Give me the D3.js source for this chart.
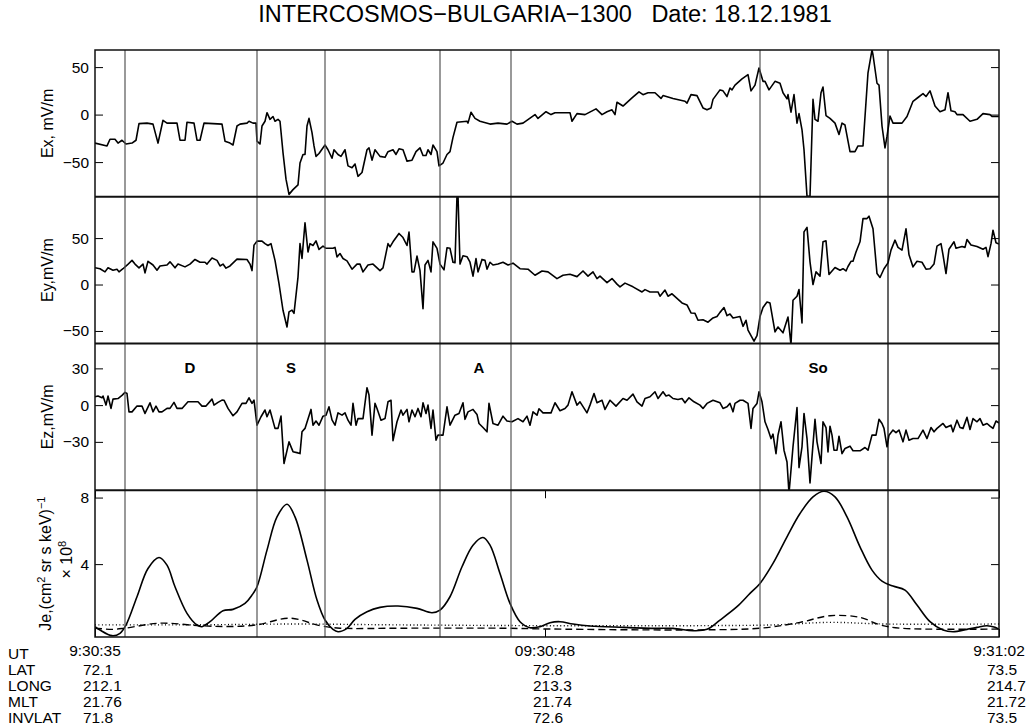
<!DOCTYPE html>
<html>
<head>
<meta charset="utf-8">
<script src="https://cdn.jsdelivr.net/npm/d3@7"></script>
<style>
  body { margin: 0; background: #fff; }
  svg { font-family: "Liberation Sans", Arial, Helvetica, sans-serif; }
</style>
</head>
<body>
<div id="chart"></div>
<script>
// time axis is in telemetry samples (904 samples between 9:30:35 and 9:31:02)
const nSamples = 904;

const timeTicks = [0, 450, 904];
const utLabels = ["9:30:35", "09:30:48", "9:31:02"];
const rowNames = ["UT", "LAT", "LONG", "MLT", "INVLAT"];
const latValues = ["72.1", "72.8", "73.5"];
const longValues = ["212.1", "213.3", "214.7"];
const mltValues = ["21.76", "21.74", "21.72"];
const invlatValues = ["71.8", "72.6", "73.5"];

// boundary markers (sample index) and region names
const eventLines = [30, 162, 230, 345, 416, 665, 793];
const regionNames = ["D", "S", "A", "So"];
const regionCenters = [95, 196, 384, 723];

// [sample, mV/m]
const exData = [[0,-30],[12,-33],[15,-26],[20,-26],[23,-30],[27,-27],[31,-31],[37,-30],[41,-27],[44,-9.5],[52,-9],[58,-10],[63,-30],[68,-6],[72,-9],[82,-9],[85,-27],[90,-27],[92,-8],[99,-9],[102,-27],[105,-27],[109,-9],[127,-10],[130,-28],[135,-30],[138,-32],[142,-12],[145,-10],[152,-9],[154,-7],[158,-9],[161,-9],[162,-28],[165,-31],[167,-12],[170,-7],[172,2],[175,-5],[178,-2],[180,-7],[183,-5],[185,-7],[188,-40],[191,-68],[194,-84],[198,-79],[203,-74],[205,-51],[208,-42],[210,-42],[212,-12],[214,-4],[217,-19],[219,-33],[221,-44],[224,-41],[230,-32],[233,-37],[237,-46],[239,-37],[243,-42],[246,-44],[250,-37],[253,-54],[257,-56],[260,-52],[263,-65],[267,-61],[272,-37],[274,-35],[277,-48],[280,-37],[285,-44],[290,-45],[293,-39],[298,-37],[301,-42],[304,-36],[308,-37],[312,-49],[317,-48],[321,-39],[325,-35],[328,-43],[331,-43],[333,-37],[336,-42],[338,-32],[342,-39],[344,-54],[348,-51],[352,-42],[355,-39],[358,-24],[362,-8],[372,-7],[373,-9],[376,2.5],[380,-4],[385,-7],[395,-10],[403,-9],[412,-10],[417,-7],[422,-10],[428,-9],[440,0],[443,-4],[451,3],[456,0],[460,2],[475,2],[477,-7],[482,1],[490,0],[501,6],[507,0],[512,3],[517,5],[520,0],[522,13],[528,9],[537,17.5],[544,24],[548,21],[553,23],[560,23],[566,17],[568,20],[578,17],[590,14],[592,12],[596,21],[602,20],[608,7],[612,5],[616,7],[618,16],[625,26],[628,25],[632,19],[635,28],[637,26],[640,31],[647,37.5],[653,42],[656,25],[660,31],[664,49],[668,35],[670,35],[674,26],[680,35],[685,33],[688,23],[692,16.5],[693,21],[696,2.5],[699,21],[702,-9],[704,1],[707,-16],[709,-37],[712,-86],[715,-86],[718,16],[720,-5],[723,-7],[726,23],[728,29],[731,-1],[735,-4],[740,-9],[744,-21],[747,-9],[750,-11],[755,-39],[760,-39],[763,-33],[768,-33],[773,44],[777,68],[778,63],[782,33],[784,31],[787,-12],[790,-35],[792,-23],[795,-1.5],[798,-9],[807,-9],[812,-2],[818,14],[823,18],[828,22],[831,19],[835,25],[840,9],[845,3],[850,5],[853,23],[856,4],[860,3],[862,0],[868,0],[875,-7],[882,-5],[888,1],[895,0],[897,-2],[904,-2]];

const eyData = [[0,18],[5,17],[10,13.6],[13,18],[18,15.4],[22,16.5],[24,13.6],[28,17],[32,20.8],[37,26],[40,22],[44,18],[48,22],[50,12.5],[53,25],[58,21],[62,15.4],[65,20],[72,21],[75,24.4],[80,18],[83,22],[90,19],[95,22],[100,27],[105,24],[110,24],[112,22],[117,28.5],[122,26],[125,20],[128,22],[131,17.6],[135,20],[142,27.3],[152,27],[155,22],[157,15],[159,42.4],[162,46.7],[167,46.7],[170,44],[173,42],[176,44],[180,26],[184,1],[188,-27.7],[192,-45.7],[194,-29.5],[197,-27.5],[199,-31],[203,8],[205,44],[207,28],[210,66.5],[213,35],[215,44],[218,42],[221,47],[224,37.8],[228,41.4],[231,39],[238,39],[240,40],[242,29.8],[245,33.4],[248,28],[252,25.5],[257,16.5],[262,22],[265,22],[268,13.6],[273,21],[278,22],[285,15],[288,18],[293,44],[295,40.6],[298,46],[304,55],[308,50.6],[312,42],[314,56.5],[317,13.6],[319,13.6],[322,30.6],[325,15],[328,-26],[330,21],[333,26],[336,13.6],[338,46],[342,39],[345,22],[349,15.8],[352,39.5],[355,39],[358,24],[360,23.4],[362,96],[363,96],[365,22],[368,31],[372,30],[375,24],[378,9],[381,28],[383,13.6],[387,27],[390,26],[392,16.5],[395,24],[398,21],[403,22],[408,24],[413,21],[418,23],[425,17],[433,16.5],[440,10],[447,14.6],[453,13.6],[462,6.4],[468,10],[475,11],[482,8.5],[488,14.6],[493,9],[498,13.6],[502,6.4],[505,9],[512,2],[517,6.4],[522,0.4],[525,-2.5],[530,1.5],[538,-2.5],[547,-8],[550,-5.5],[555,-8],[563,-8],[565,-12.6],[570,-6],[573,-12.6],[577,-10],[582,-15],[587,-19.8],[592,-22],[596,-30.6],[600,-31],[603,-38.5],[608,-38],[613,-40.6],[618,-36],[622,-34.5],[625,-30],[629,-24.8],[632,-33.5],[635,-31.7],[638,-36],[645,-34.5],[648,-45],[651,-38.5],[653,-49],[659,-61],[662,-55],[665,-34.5],[668,-24.8],[672,-18.8],[675,-20],[680,-51],[683,-45.7],[688,-52],[693,-35],[696,-65],[698,-17],[702,-12.6],[704,-5.4],[707,-41.4],[709,56.7],[712,61.5],[715,24.4],[718,0],[721,13.6],[725,9],[728,46],[731,47],[734,10.8],[740,18.3],[745,15.4],[748,17],[751,14.6],[753,19.4],[756,25],[758,25],[761,35],[765,46],[768,71],[772,71],[774,73.6],[778,60],[782,11.8],[785,7.6],[789,17],[793,23.3],[796,37],[800,47.8],[803,40],[807,37],[811,60],[814,32],[818,19],[822,25],[827,24],[831,16.5],[835,17],[839,22],[842,41.3],[846,44],[848,32],[851,11.8],[854,38],[859,46],[861,39],[867,41],[870,40],[872,48.5],[876,42.6],[882,41],[888,38],[891,40],[893,30],[896,44],[898,58.5],[901,45],[904,43.6]];

const ezData = [[0,6.8],[3,7.4],[7,6],[8,7.4],[11,0],[13,7.4],[16,-2.7],[18,4.9],[23,5.4],[27,8],[30,10.4],[32,9.5],[34,-5.5],[37,-5.5],[42,-0.8],[47,-0.8],[50,-6.8],[55,1.9],[58,-5.5],[61,-0.8],[64,-5.5],[67,-5.5],[72,-2.7],[75,-2.7],[79,2.2],[82,-2.7],[87,-2.7],[93,2.7],[103,2.7],[107,-0.8],[111,-0.8],[117,4.9],[119,0],[123,2.2],[127,4.1],[129,4],[133,-2.7],[138,-8.7],[142,-5.5],[147,1.4],[151,1.4],[154,6],[157,1.4],[159,4],[162,-16.4],[166,-9.5],[170,-4],[172,-9.5],[175,-4],[180,-19],[183,-19],[186,-9],[189,-47.7],[194,-30],[198,-38],[203,-39],[205,-39.6],[207,-21.8],[210,-19],[216,-3.5],[218,-16.4],[221,-13],[224,-16.4],[228,-9],[231,-8.2],[234,-1.4],[237,-12],[240,-16.4],[243,-6.3],[247,-8.2],[250,-6.3],[253,-12.3],[256,-16.4],[258,1.4],[261,-16.4],[263,-11],[268,-11],[272,14.2],[274,8.2],[277,-24.5],[280,1.4],[282,-2.7],[286,-12.3],[290,-11],[293,2.7],[296,4],[298,-29],[302,-13.6],[306,-4],[308,-8.2],[312,-3.5],[314,-13.6],[317,-4],[320,-9.5],[323,-2.7],[326,-9.5],[328,1.9],[331,-6.8],[333,0],[336,-19],[338,-4],[341,-28.6],[343,-24.5],[348,-24.5],[352,-1.4],[355,-16.4],[360,-8.2],[364,-6.8],[368,1.9],[370,-11.6],[373,-5.5],[378,-3.5],[382,-7.6],[384,-15],[388,-18.3],[392,-21.8],[394,1.4],[398,-15],[403,-16.4],[408,-9],[412,-13],[417,-13.6],[423,-11],[428,-13.6],[432,-9],[435,-16.4],[438,-5.5],[442,-8.2],[444,-3],[448,-6.3],[456,-6.3],[460,1.9],[465,-4.6],[470,-2.7],[473,0],[477,10.9],[482,0],[485,2.7],[492,-6.3],[495,0],[499,9.5],[502,1.9],[507,4],[510,-3.5],[515,4],[521,-0.8],[528,5.4],[532,4],[538,9],[542,2.7],[547,-0.8],[550,5.4],[555,6.8],[560,10.9],[563,5.4],[568,10.9],[571,7.4],[574,8.2],[578,5.4],[583,4.6],[587,5.4],[590,1.9],[594,6],[599,2.7],[605,0],[608,-2.7],[612,1.4],[618,4],[625,1.9],[628,-2.7],[632,-1.4],[635,1.4],[638,-5.5],[640,1.4],[645,4],[648,4],[653,1.4],[656,-19],[658,-2.7],[662,1.4],[664,10.9],[667,2.7],[670,-13.6],[673,-19.9],[676,-27.3],[678,-23.7],[681,-39.6],[683,-24.5],[686,-13.6],[689,-36.8],[692,-46.4],[694,-72],[698,-34],[702,-2],[704,-51],[707,-34],[709,-6.8],[712,-27.3],[715,-63.6],[717,-42.3],[720,-11.6],[722,-30],[726,-47.7],[728,-13.6],[731,-18.3],[733,-38.2],[735,-17.2],[737,-24.5],[739,-36.8],[742,-36.8],[744,-25.4],[747,-39.6],[750,-35.4],[755,-33.5],[758,-37.3],[765,-37.3],[770,-34.6],[773,-36.8],[777,-24.5],[781,-24.5],[784,-11.6],[787,-15],[789,-19],[792,-34],[794,-24.5],[798,-20.4],[801,-22.5],[804,-20.4],[808,-30],[811,-20.4],[814,-28.6],[818,-27.3],[823,-27.3],[828,-20.4],[832,-27.3],[836,-18.3],[839,-21.8],[842,-19],[848,-15],[851,-18.3],[856,-16.4],[858,-21.8],[862,-12.3],[865,-18.3],[868,-19],[872,-10],[875,-19.9],[878,-11],[882,-13.6],[885,-11],[888,-16.4],[892,-15],[895,-17.2],[898,-19],[901,-13],[904,-14.6]];

// electron flux, units of 1e8 (cm^2 sr s keV)^-1
const jeSolid = [[0,0.24],[5,0.04],[17,-0.3],[25,-0.16],[31,0.34],[42,2.04],[53,3.74],[64,4.4],[72,3.94],[80,2.64],[92,1.04],[102,0.34],[107,0.24],[115,0.54],[128,1.2],[138,1.28],[150,1.64],[157,2.14],[162,2.64],[172,4.84],[182,6.84],[192,7.6],[200,6.84],[212,4.24],[222,1.84],[230,0.64],[238,0.08],[243,-0.06],[252,0.14],[260,0.68],[272,1.14],[285,1.4],[303,1.48],[322,1.34],[337,1.08],[345,1.24],[355,2.04],[367,3.84],[378,5.14],[388,5.6],[395,5.14],[405,3.44],[415,1.64],[425,0.54],[435,0.18],[445,0.24],[455,0.48],[465,0.54],[478,0.4],[495,0.28],[528,0.2],[562,0.14],[578,0.14],[598,0.0],[612,0.08],[625,0.64],[642,1.44],[655,2.24],[665,2.84],[678,4.04],[692,5.64],[705,7.04],[718,8.04],[729,8.38],[740,8.04],[752,6.84],[765,5.04],[777,3.64],[787,2.98],[798,2.68],[810,2.44],[822,1.54],[835,0.54],[848,0.04],[858,-0.06],[872,0.08],[882,0.2],[892,0.3],[900,0.2],[904,0.08]];
const jeDashed = [[0,0.15],[17,0.08],[30,0.15],[65,0.45],[105,0.3],[135,0.25],[162,0.35],[195,0.75],[225,0.3],[245,0.15],[305,0.15],[405,0.15],[455,0.1],[605,0.05],[665,0.15],[705,0.5],[735,0.9],[765,0.8],[785,0.35],[805,0.15],[904,0.1]];
const jeDotted = [[0,0.35],[100,0.35],[200,0.4],[300,0.35],[450,0.3],[600,0.3],[680,0.35],[735,0.5],[790,0.4],[904,0.4]];

const W = 1030, H = 727;
const margin = {left: 95, right: 31, top: 50};
const plotW = W - margin.left - margin.right;
const panelH = 146.75;

const panels = [
  {label: "Ex, mV/m", domain: [-86.5, 68], ticks: [-50, 0, 50], series: [exData]},
  {label: "Ey,mV/m", domain: [-63.5, 94.5], ticks: [-50, 0, 50], series: [eyData]},
  {label: "Ez,mV/m", domain: [-69.5, 50.3], ticks: [-30, 0, 30], series: [ezData]},
  {label: null, domain: [-0.38, 8.44], ticks: [4, 8], series: [jeSolid, jeDashed, jeDotted]}
];

const svg = d3.select("#chart").append("svg")
  .attr("width", W).attr("height", H);

const x = d3.scaleLinear().domain([0, nSamples]).range([margin.left, margin.left + plotW]);

svg.append("text")
  .attr("x", 545).attr("y", 22)
  .attr("text-anchor", "middle")
  .attr("font-size", 23.5)
  .attr("xml:space", "preserve")
  .text("INTERCOSMOS\u2212BULGARIA\u22121300   Date: 18.12.1981");

const dashStyles = [null, "7,4", "1,2.5"];

panels.forEach(function(p, i) {
  const top = margin.top + i * panelH;
  const y = d3.scaleLinear().domain(p.domain).range([top + panelH, top]);
  p.y = y;

  const clipId = "clip" + i;
  svg.append("clipPath").attr("id", clipId)
    .append("rect")
    .attr("x", margin.left).attr("y", top)
    .attr("width", plotW).attr("height", panelH);

  const line = d3.line()
    .x(d => x(d[0]))
    .y(d => y(d[1]))
    .curve(i === 3 ? d3.curveCatmullRom.alpha(0.5) : d3.curveLinear);

  p.series.forEach(function(s, k) {
    svg.append("path")
      .datum(s)
      .attr("clip-path", "url(#" + clipId + ")")
      .attr("fill", "none")
      .attr("stroke", "#000")
      .attr("stroke-width", i === 3 ? (k === 0 ? 1.6 : 1.4) : 1.6)
      .attr("stroke-linejoin", "round")
      .attr("stroke-dasharray", i === 3 ? dashStyles[k] : null)
      .attr("d", line);
  });

  // left axis, ticks pointing inwards
  const gl = svg.append("g")
    .attr("transform", "translate(" + margin.left + ",0)")
    .call(d3.axisLeft(y).tickValues(p.ticks).tickSize(-8).tickPadding(6));
  gl.select(".domain").remove();
  gl.selectAll("text").attr("font-size", 15.5).attr("font-family", null).attr("fill", "#000");
  gl.selectAll("line").attr("stroke", "#000");

  const gr = svg.append("g")
    .attr("transform", "translate(" + (margin.left + plotW) + ",0)")
    .call(d3.axisRight(y).tickValues(p.ticks).tickSize(-8).tickFormat(""));
  gr.select(".domain").remove();
  gr.selectAll("line").attr("stroke", "#000");

  if (p.label) {
    svg.append("text")
      .attr("transform", "translate(53," + (top + panelH / 2) + ") rotate(-90)")
      .attr("text-anchor", "middle")
      .attr("font-size", 16)
      .text(p.label);
  }
});

// flux label with superscripts
const jeMid = margin.top + 3.5 * panelH;
const jl = svg.append("text")
  .attr("transform", "translate(51," + jeMid + ") rotate(-90)")
  .attr("text-anchor", "middle")
  .attr("font-size", 16);
jl.append("tspan").text("Je,(cm");
jl.append("tspan").attr("dy", -6).attr("font-size", 11).text("2");
jl.append("tspan").attr("dy", 6).text(" sr s keV)");
jl.append("tspan").attr("dy", -6).attr("font-size", 11).text("\u22121");
const jl2 = svg.append("text")
  .attr("transform", "translate(72," + (jeMid - 4) + ") rotate(-90)")
  .attr("text-anchor", "middle")
  .attr("font-size", 16);
jl2.append("tspan").text("\u00d7 10");
jl2.append("tspan").attr("dy", -6).attr("font-size", 11).text("8");

// bottom time axis ticks (panel 4, top and bottom)
const y4top = margin.top + 3 * panelH, y4bot = margin.top + 4 * panelH;
svg.append("g")
  .attr("transform", "translate(0," + y4bot + ")")
  .call(d3.axisBottom(x).tickValues(timeTicks).tickSize(-8).tickFormat(""))
  .call(g => g.select(".domain").remove())
  .selectAll("line").attr("stroke", "#000");
svg.append("g")
  .attr("transform", "translate(0," + y4top + ")")
  .call(d3.axisTop(x).tickValues(timeTicks).tickSize(-8).tickFormat(""))
  .call(g => g.select(".domain").remove())
  .selectAll("line").attr("stroke", "#000");

// boundary lines through all panels
svg.append("g").selectAll("line")
  .data(eventLines)
  .join("line")
  .attr("x1", d => x(d)).attr("x2", d => x(d))
  .attr("y1", margin.top).attr("y2", y4bot)
  .attr("stroke", (d, i) => i === eventLines.length - 1 ? "#000" : "#555")
  .attr("stroke-width", 1.2);

// panel frames
const frame = svg.append("g").attr("fill", "none").attr("stroke", "#111");
frame.append("rect")
  .attr("x", margin.left).attr("y", margin.top)
  .attr("width", plotW).attr("height", 4 * panelH)
  .attr("stroke-width", 1.5);
frame.selectAll("line.sep")
  .data([1, 2, 3])
  .join("line")
  .attr("x1", margin.left).attr("x2", margin.left + plotW)
  .attr("y1", d => margin.top + d * panelH)
  .attr("y2", d => margin.top + d * panelH)
  .attr("stroke-width", 2);

// region names in the Ez panel
svg.append("g").selectAll("text")
  .data(regionNames)
  .join("text")
  .attr("x", (d, i) => x(regionCenters[i]))
  .attr("y", panels[2].y(30) + 5)
  .attr("text-anchor", "middle")
  .attr("font-size", 15)
  .attr("font-weight", "bold")
  .text(d => d);

// ephemeris block
const rowY = [659, 675, 691, 707, 723];
svg.append("g").selectAll("text")
  .data(rowNames)
  .join("text")
  .attr("x", 8).attr("y", (d, i) => rowY[i])
  .attr("font-size", 15.5)
  .text(d => d);

svg.append("g").selectAll("text")
  .data(utLabels)
  .join("text")
  .attr("x", (d, i) => x(timeTicks[i]))
  .attr("y", 656)
  .attr("text-anchor", "middle")
  .attr("font-size", 15.5)
  .text(d => d);

[latValues, longValues, mltValues, invlatValues].forEach(function(vals, r) {
  svg.append("g").selectAll("text")
    .data(vals)
    .join("text")
    .attr("x", (d, i) => x(timeTicks[i]) - 12)
    .attr("y", rowY[r + 1])
    .attr("font-size", 15.5)
    .text(d => d);
});
</script>
</body>
</html>
